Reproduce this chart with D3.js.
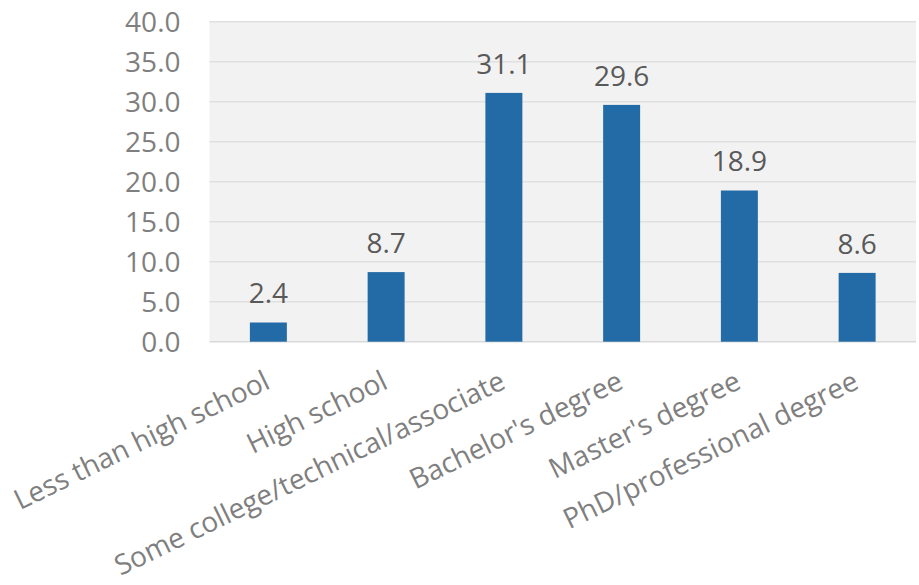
<!DOCTYPE html>
<html><head><meta charset="utf-8">
<script src="https://cdn.jsdelivr.net/npm/d3@7"></script>
<style>
html,body{margin:0;padding:0;background:#fff;}
svg{display:block;font-family:"Open Sans", Lato, sans-serif;}
</style></head>
<body>
<svg id="chart" width="919" height="585"></svg>
<script>
const categories = ["Less than high school","High school","Some college/technical/associate","Bachelor's degree","Master's degree","PhD/professional degree"];
const values = [2.4, 8.7, 31.1, 29.6, 18.9, 8.6];
const yTicks = [0,5,10,15,20,25,30,35,40];

const W = 919, H = 585;
const m = {top: 21.7, right: 3, bottom: 243.3, left: 209.5};
const svg = d3.select("#chart");
const iw = W - m.left - m.right, ih = H - m.top - m.bottom;
const g = svg.append("g").attr("transform", `translate(${m.left},${m.top})`);

const x = d3.scaleBand().domain(categories).range([0, iw]).paddingInner(0.686).paddingOuter(0.343);
const y = d3.scaleLinear().domain([0, 40]).range([ih, 0]);

g.append("rect").attr("width", iw).attr("height", ih).attr("fill", "#f2f2f2");

g.selectAll("line.grid").data(yTicks).join("line").attr("class","grid")
  .attr("x1", 0).attr("x2", iw).attr("y1", d => y(d)).attr("y2", d => y(d))
  .attr("stroke", d => d === 0 ? "#d9d9d9" : "#e0e0e0").attr("stroke-width", 1.4);

const yAxis = g.append("g").call(d3.axisLeft(y).tickValues(yTicks).tickFormat(d3.format(".1f")).tickSize(0).tickPadding(29));
yAxis.select(".domain").remove();
yAxis.selectAll("text").attr("fill", "#7f7f7f").style("font-size", "28px").style("font-family", "'Open Sans'").attr("dy", "0.36em");

g.selectAll("rect.bar").data(values).join("rect").attr("class","bar")
  .attr("x", (d,i) => x(categories[i])).attr("width", x.bandwidth())
  .attr("y", d => y(d)).attr("height", d => ih - y(d))
  .attr("fill", "#236ba6");

g.selectAll("text.val").data(values).join("text").attr("class","val")
  .attr("x", (d,i) => x(categories[i]) + x.bandwidth()/2)
  .attr("y", d => y(d) - 19)
  .attr("text-anchor", "middle").attr("fill", "#595959").style("font-size", "28px")
  .text(d => d3.format(".1f")(d));

g.selectAll("text.cat").data(categories).join("text").attr("class","cat")
  .attr("transform", d => `translate(${x(d) + x.bandwidth()/2 - 6},${ih + 27}) rotate(-26)`)
  .attr("text-anchor", "end").attr("dy", "0.75em")
  .attr("fill", "#7f7f7f").style("font-size", "28px")
  .text(d => d);
</script>
</body></html>
